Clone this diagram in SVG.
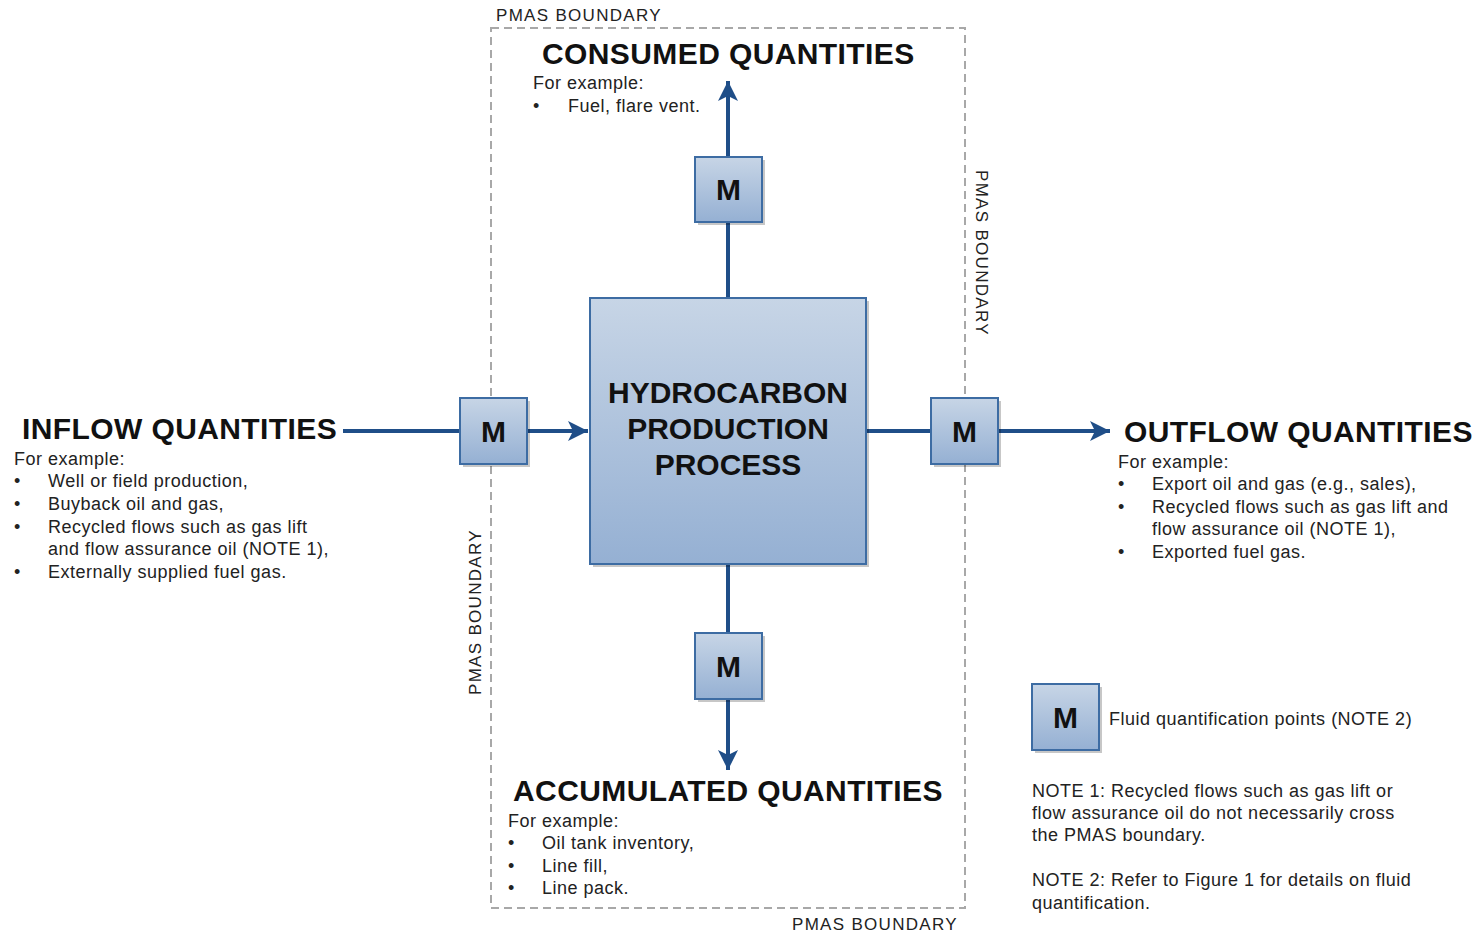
<svg xmlns="http://www.w3.org/2000/svg" width="1476" height="934" viewBox="0 0 1476 934">
<defs>
<linearGradient id="g" x1="0" y1="0" x2="0" y2="1">
<stop offset="0" stop-color="#C7D5E6"/>
<stop offset="1" stop-color="#95B0D3"/>
</linearGradient>
<marker id="ah" viewBox="0 0 10 10" refX="10" refY="5" markerWidth="5.5" markerHeight="5" orient="auto" markerUnits="strokeWidth">
<path d="M0,0 L10,5 L0,10 L2.5,5 Z" fill="#1F4E88"/>
</marker>
</defs>
<style>
.box{fill:url(#g);stroke:#3D6CA3;stroke-width:2}
.sh{fill:#000;opacity:0.22}
.m{font-family:"Liberation Sans",Arial,sans-serif;font-weight:bold;font-size:30px;fill:#111;text-anchor:middle}
.ttl{font-family:"Liberation Sans",Arial,sans-serif;font-weight:bold;font-size:30px;fill:#111;letter-spacing:0.4px}
.t{font-family:"Liberation Sans",Arial,sans-serif;font-size:18px;fill:#222;letter-spacing:0.5px}
.pm{font-family:"Liberation Sans",Arial,sans-serif;font-size:17px;fill:#222;letter-spacing:1.3px}
.ln{stroke:#1F4E88;stroke-width:4;fill:none}
.bd{fill:none;stroke:#A8A8A8;stroke-width:2;stroke-dasharray:8 5}
</style>
<rect width="1476" height="934" fill="#fff"/>
<g id="boundary">
<rect class="bd" x="491" y="28" width="474" height="880"/>
<text class="pm" x="496" y="21">PMAS BOUNDARY</text>
<text class="pm" x="792" y="930">PMAS BOUNDARY</text>
<text class="pm" transform="translate(976,170) rotate(90)">PMAS BOUNDARY</text>
<text class="pm" transform="translate(481,695) rotate(-90)">PMAS BOUNDARY</text>
</g>
<g id="connectors">
<line class="ln" x1="343" y1="431" x2="460" y2="431"/>
<line class="ln" x1="527" y1="431" x2="588" y2="431" marker-end="url(#ah)"/>
<line class="ln" x1="866" y1="431" x2="931" y2="431"/>
<line class="ln" x1="998" y1="431" x2="1110" y2="431" marker-end="url(#ah)"/>
<line class="ln" x1="728" y1="298" x2="728" y2="222"/>
<line class="ln" x1="728" y1="157" x2="728" y2="81" marker-end="url(#ah)"/>
<line class="ln" x1="728" y1="564" x2="728" y2="633"/>
<line class="ln" x1="728" y1="699" x2="728" y2="770" marker-end="url(#ah)"/>
</g>
<g id="process">
<rect class="sh" x="593" y="301" width="276" height="266"/>
<rect class="box" x="590" y="298" width="276" height="266"/>
<text class="m" x="728" y="403">HYDROCARBON</text>
<text class="m" x="728" y="439">PRODUCTION</text>
<text class="m" x="728" y="475">PROCESS</text>
</g>
<g id="m-in">
<rect class="sh" x="463" y="401" width="67" height="66"/>
<rect class="box" x="460" y="398" width="67" height="66"/>
<text class="m" x="493.5" y="442">M</text>
</g>
<g id="m-out">
<rect class="sh" x="934" y="401" width="67" height="66"/>
<rect class="box" x="931" y="398" width="67" height="66"/>
<text class="m" x="964.5" y="442">M</text>
</g>
<g id="m-top">
<rect class="sh" x="698" y="160" width="67" height="65"/>
<rect class="box" x="695" y="157" width="67" height="65"/>
<text class="m" x="728.5" y="200">M</text>
</g>
<g id="m-bottom">
<rect class="sh" x="698" y="636" width="67" height="66"/>
<rect class="box" x="695" y="633" width="67" height="66"/>
<text class="m" x="728.5" y="677">M</text>
</g>
<g id="legend">
<rect class="sh" x="1035" y="687" width="67" height="66"/>
<rect class="box" x="1032" y="684" width="67" height="66"/>
<text class="m" x="1065.5" y="728">M</text>
<text class="t" x="1109" y="725">Fluid quantification points (NOTE 2)</text>
</g>
<g id="inflow">
<text class="ttl" x="22" y="439">INFLOW QUANTITIES</text>
<text class="t" x="14" y="465">For example:</text>
<text class="t" x="14" y="487">•</text><text class="t" x="48" y="487">Well or field production,</text>
<text class="t" x="14" y="510">•</text><text class="t" x="48" y="510">Buyback oil and gas,</text>
<text class="t" x="14" y="533">•</text><text class="t" x="48" y="533">Recycled flows such as gas lift</text>
<text class="t" x="48" y="555">and flow assurance oil (NOTE 1),</text>
<text class="t" x="14" y="578">•</text><text class="t" x="48" y="578">Externally supplied fuel gas.</text>
</g>
<g id="outflow">
<text class="ttl" x="1124" y="442">OUTFLOW QUANTITIES</text>
<text class="t" x="1118" y="468">For example:</text>
<text class="t" x="1118" y="490">•</text><text class="t" x="1152" y="490">Export oil and gas (e.g., sales),</text>
<text class="t" x="1118" y="513">•</text><text class="t" x="1152" y="513">Recycled flows such as gas lift and</text>
<text class="t" x="1152" y="535">flow assurance oil (NOTE 1),</text>
<text class="t" x="1118" y="558">•</text><text class="t" x="1152" y="558">Exported fuel gas.</text>
</g>
<g id="consumed">
<text class="ttl" x="542" y="64">CONSUMED QUANTITIES</text>
<text class="t" x="533" y="89">For example:</text>
<text class="t" x="533" y="112">•</text><text class="t" x="568" y="112">Fuel, flare vent.</text>
</g>
<g id="accumulated">
<text class="ttl" x="513" y="801">ACCUMULATED QUANTITIES</text>
<text class="t" x="508" y="827">For example:</text>
<text class="t" x="508" y="849">•</text><text class="t" x="542" y="849">Oil tank inventory,</text>
<text class="t" x="508" y="872">•</text><text class="t" x="542" y="872">Line fill,</text>
<text class="t" x="508" y="894">•</text><text class="t" x="542" y="894">Line pack.</text>
</g>
<g id="notes">
<text class="t" x="1032" y="797">NOTE 1: Recycled flows such as gas lift or</text>
<text class="t" x="1032" y="819">flow assurance oil do not necessarily cross</text>
<text class="t" x="1032" y="841">the PMAS boundary.</text>
<text class="t" x="1032" y="886">NOTE 2: Refer to Figure 1 for details on fluid</text>
<text class="t" x="1032" y="909">quantification.</text>
</g>
</svg>
